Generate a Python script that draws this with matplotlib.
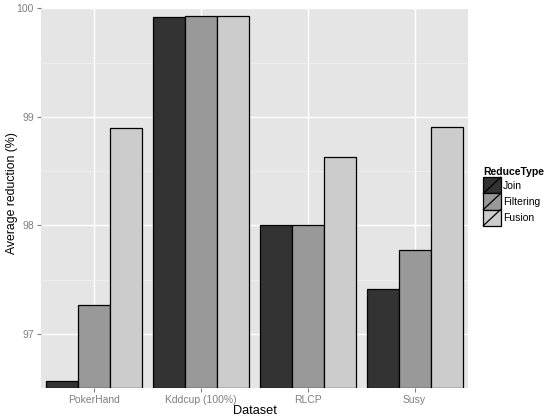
import matplotlib
matplotlib.use("Agg")
import matplotlib.pyplot as plt
import numpy as np
from matplotlib.patches import Rectangle
from matplotlib.lines import Line2D
from matplotlib.legend_handler import HandlerBase

datasets = ["PokerHand", "Kddcup (100%)", "RLCP", "Susy"]
reduce_types = ["Join", "Filtering", "Fusion"]
join = [96.567, 99.922, 98.002, 97.412]
filtering = [97.267, 99.930, 98.002, 97.770]
fusion = [98.896, 99.932, 98.629, 98.906]
colors = ["#333333", "#999999", "#CCCCCC"]
yticks = [97, 98, 99, 100]

plt.rcParams['font.family'] = ['Liberation Sans', 'DejaVu Sans']

fig = plt.figure(figsize=(5.46, 4.16), dpi=100)
W, H = 546, 416
ax = fig.add_axes([41 / W, (H - 388) / H, (468 - 41) / W, (388 - 8.3) / H])
ax.set_facecolor("#E5E5E5")

x = np.arange(1, len(datasets) + 1)
bw = 0.3
series = [join, filtering, fusion]
base = 96.5
for i, (vals, c) in enumerate(zip(series, colors)):
    ax.bar(x + (i - 1) * bw, np.array(vals) - base, bottom=base, width=bw,
           color=c, edgecolor="black", linewidth=0.9, zorder=3)

ax.set_xlim(0.5, 4.5)
ax.set_ylim(96.5, 100)
ax.set_xticks(x)
ax.set_xticklabels(datasets)
ax.set_yticks(yticks)
ax.set_yticklabels([str(t) for t in yticks])
ax.set_yticks([96.5, 97.5, 98.5, 99.5], minor=True)
ax.grid(True, which="major", color="white", linewidth=1.0, zorder=0)
ax.grid(True, which="minor", axis="y", color="#F2F2F2", linewidth=0.6, zorder=0)
ax.set_axisbelow(True)
for s in ax.spines.values():
    s.set_visible(False)
ax.tick_params(axis="both", which="major", colors="#7F7F7F", labelcolor="#7F7F7F",
               labelsize=7.5, length=3, width=0.8, pad=2)
ax.tick_params(axis="both", which="minor", length=0)

fig.text(254.5 / W, 1 - 410.5 / H, "Dataset", fontsize=9.2, color="black",
         ha="center", va="center")
fig.text(12 / W, 1 - 193 / H, "Average reduction (%)", fontsize=8.8, color="black",
         ha="center", va="center", rotation=90)


class SlashHandler(HandlerBase):
    def create_artists(self, legend, orig_handle, xdescent, ydescent, width, height, fontsize, trans):
        r = Rectangle((-xdescent, -ydescent), width, height,
                      facecolor=orig_handle.get_facecolor(), edgecolor="black",
                      linewidth=0.9, transform=trans)
        l = Line2D([-xdescent, -xdescent + width], [-ydescent, -ydescent + height],
                   color="black", linewidth=0.9, transform=trans)
        return [r, l]


handles = [Rectangle((0, 0), 1, 1, facecolor=c) for c in colors]
leg = fig.legend(handles, reduce_types, handler_map={Rectangle: SlashHandler()},
                 loc="upper left", bbox_to_anchor=(475 / W, 1 - 159 / H),
                 frameon=False, fontsize=7.5, title="ReduceType",
                 title_fontproperties={"weight": "bold", "size": 7.5},
                 handlelength=1.66, handleheight=2.0, labelspacing=0.0,
                 handletextpad=0.25, borderpad=0.3, alignment="left")

fig.savefig("out.png", dpi=100)
